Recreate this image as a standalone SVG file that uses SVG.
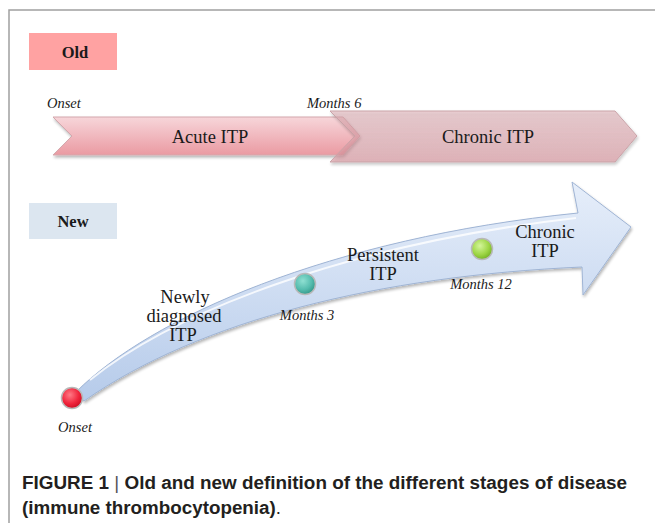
<svg xmlns="http://www.w3.org/2000/svg" width="655" height="523" viewBox="0 0 655 523">
<defs>
<linearGradient id="gAcute" x1="0" y1="0" x2="0" y2="1">
<stop offset="0" stop-color="#f7d6da"/>
<stop offset="1" stop-color="#ea9aa2"/>
</linearGradient>
<linearGradient id="gChronic" x1="0" y1="0" x2="0" y2="1">
<stop offset="0" stop-color="#dca9b0" stop-opacity="0.5"/>
<stop offset="1" stop-color="#d8959e" stop-opacity="0.62"/>
</linearGradient>
<linearGradient id="gNew" x1="0" y1="0" x2="0" y2="1">
<stop offset="0" stop-color="#e6eefa"/>
<stop offset="1" stop-color="#b6cbea"/>
</linearGradient>
<radialGradient id="gRed" cx="0.4" cy="0.35" r="0.7">
<stop offset="0" stop-color="#ff7a86"/>
<stop offset="0.6" stop-color="#f0253c"/>
<stop offset="1" stop-color="#c80a20"/>
</radialGradient>
<radialGradient id="gTeal" cx="0.4" cy="0.35" r="0.7">
<stop offset="0" stop-color="#8fe0d2"/>
<stop offset="0.6" stop-color="#55bcae"/>
<stop offset="1" stop-color="#2f9485"/>
</radialGradient>
<radialGradient id="gGreen" cx="0.4" cy="0.35" r="0.7">
<stop offset="0" stop-color="#d4f59a"/>
<stop offset="0.6" stop-color="#9ed646"/>
<stop offset="1" stop-color="#6fae20"/>
</radialGradient>
<filter id="sh" x="-10%" y="-10%" width="130%" height="140%">
<feGaussianBlur in="SourceAlpha" stdDeviation="1.5"/>
<feOffset dx="1" dy="2" result="b"/>
<feComponentTransfer><feFuncA type="linear" slope="0.3"/></feComponentTransfer>
<feMerge><feMergeNode/><feMergeNode in="SourceGraphic"/></feMerge>
</filter>
</defs>
<style>
.serif{font-family:"Liberation Serif","Times New Roman",serif;fill:#1a1a1a}
.lab{font-size:18.5px;text-anchor:middle}
.it{font-style:italic;font-size:14.5px}
.hdr{font-weight:bold;font-size:16.5px;text-anchor:middle}
.cap{font-family:"Liberation Sans",Arial,sans-serif;font-weight:bold;font-size:18px;fill:#231f20}
.dot{stroke:#b8b8b8;stroke-width:1.5}
</style>
<rect x="0" y="0" width="655" height="523" fill="#ffffff"/>
<path d="M9 523 V10 H655" fill="none" stroke="#a0a0a0" stroke-width="1.5"/>

<g id="old-label">
<rect x="29" y="33" width="88" height="37" fill="#ffa2a2"/>
<text class="serif hdr" x="75" y="58">Old</text>
</g>
<g id="acute-itp">
<polygon points="53,117 343,117 360,136 343,155 53,155 72,136" fill="url(#gAcute)" stroke="#d4a8ad" stroke-width="1" filter="url(#sh)"/>
<text class="serif lab" x="210" y="143">Acute ITP</text>
</g>
<g id="chronic-itp-old">
<polygon points="330,111 615,111 637,136 615,162 330,162 355,136" fill="url(#gChronic)" stroke="#c9a2a7" stroke-width="1" filter="url(#sh)"/>
<text class="serif lab" x="488" y="143">Chronic ITP</text>
</g>
<g id="old-times">
<text class="serif it" x="47" y="108">Onset</text>
<text class="serif it" x="307" y="108">Months 6</text>
</g>

<g id="new-label">
<rect x="29" y="203" width="88" height="36" fill="#dce6f0"/>
<text class="serif hdr" x="73" y="227">New</text>
</g>

<g id="connectors">
<path d="M76 392 C150 318 330 238 578 213 L572 182 L631 227 L583 295 L582 267 C380 276 200 320 84 401 Z" fill="url(#gNew)" stroke="#9fb4d4" stroke-width="1" filter="url(#sh)"/>
<path d="M90 380 C170 315 340 245 576 218" fill="none" stroke="#ffffff" stroke-width="2" stroke-opacity="0.8"/>
</g>

<g id="onset-new">
<circle class="dot" cx="72" cy="398" r="10.5" fill="url(#gRed)"/>
<text class="serif it" x="75" y="432" text-anchor="middle">Onset</text>
</g>
<g id="newly-diagnosed">
<text class="serif lab" x="185" y="303">Newly</text>
<text class="serif lab" x="184" y="322">diagnosed</text>
<text class="serif lab" x="183" y="341">ITP</text>
</g>
<g id="months-3">
<circle class="dot" cx="305" cy="284" r="10.5" fill="url(#gTeal)"/>
<text class="serif it" x="307" y="320" text-anchor="middle">Months 3</text>
</g>
<g id="persistent-itp">
<text class="serif lab" x="383" y="261">Persistent</text>
<text class="serif lab" x="383" y="280">ITP</text>
</g>
<g id="months-12">
<circle class="dot" cx="482" cy="249" r="10.5" fill="url(#gGreen)"/>
<text class="serif it" x="481" y="289" text-anchor="middle">Months 12</text>
</g>
<g id="chronic-itp-new">
<text class="serif lab" x="545" y="238">Chronic</text>
<text class="serif lab" x="545" y="257">ITP</text>
</g>

<g id="caption">
<text class="cap" x="22" y="489" textLength="605" lengthAdjust="spacingAndGlyphs">FIGURE 1 <tspan font-weight="normal" fill="#555">|</tspan> Old and new definition of the different stages of disease</text>
<text class="cap" x="22" y="514" textLength="259" lengthAdjust="spacingAndGlyphs">(immune thrombocytopenia)<tspan font-weight="normal">.</tspan></text>
</g>
</svg>
